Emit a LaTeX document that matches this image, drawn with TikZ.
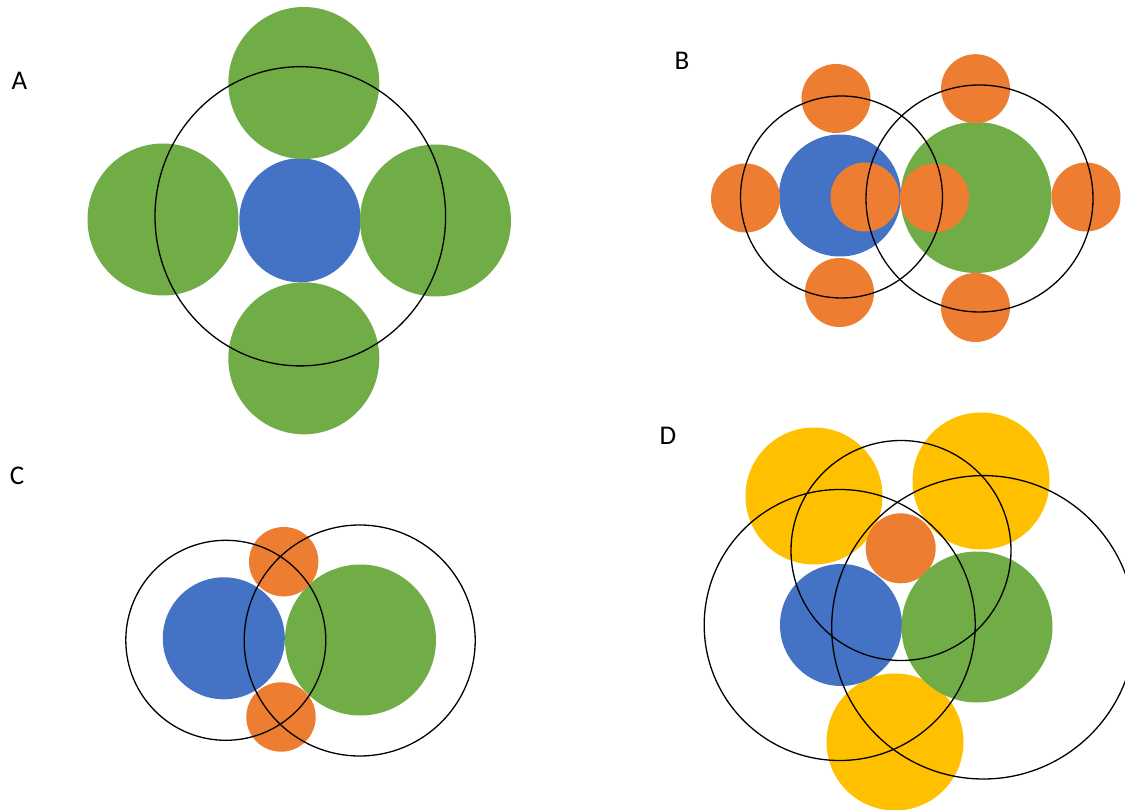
\documentclass[tikz,border=0pt]{standalone}
\usepackage{fontspec}
\setmainfont{Carlito}
\definecolor{cblue}{HTML}{4472C4}
\definecolor{cgreen}{HTML}{70AD47}
\definecolor{corange}{HTML}{ED7D31}
\definecolor{cyellow}{HTML}{FFC000}
\tikzset{
  ring/.style={draw=black, line width=1.3pt},
  lbl/.style={anchor=center, inner sep=0pt, font=\fontsize{27}{31}\selectfont}
}
\begin{document}
\begin{tikzpicture}[x=1pt,y=-1pt]
\useasboundingbox (0,0) rectangle (1125,810);
\fill[white] (0,0) rectangle (1125,810);
% ---- A ----
\node[lbl] (la) at (19.5,80.5) {A};
\fill[cblue] (300,220.3) ellipse (60.7 and 62);
\fill[cgreen] (303.8,83) ellipse (75.5 and 76);
\fill[cgreen] (163,219.5) ellipse (75.5 and 76);
\fill[cgreen] (435.5,220.5) ellipse (75.5 and 76);
\fill[cgreen] (303.8,358.3) ellipse (75.5 and 76);
\draw[ring] (300.3,216.3) ellipse (145.3 and 149.6);
% ---- B ----
\node[lbl] (lb) at (682,60.5) {B};
\fill[cblue] (840,195.5) circle (61);
\fill[cgreen] (976,197.5) circle (75.5);
\foreach \p in {(745.5,198),(836,98.5),(865,197),(839.5,292.5),(975.5,88.7),(934.5,198),(1086,197),(975.5,307.5)}
  \fill[corange] \p circle (34.5);
\draw[ring] (841.5,197) circle (101);
\draw[ring] (979.5,198.5) circle (113.5);
% ---- C ----
\node[lbl] (lc) at (17,476) {C};
\fill[cblue] (223.8,638.3) circle (61);
\fill[cgreen] (360.5,640) circle (75.5);
\fill[corange] (283.7,561.7) circle (34.7);
\fill[corange] (281,717) circle (34.7);
\draw[ring] (225.8,640.3) circle (100);
\draw[ring] (359.7,640.5) circle (115.5);
% ---- D ----
\node[lbl] (ld) at (668,436) {D};
\fill[cyellow] (814,496) circle (68.5);
\fill[cyellow] (981,481) circle (68.5);
\fill[cyellow] (895,742) circle (68.5);
\fill[corange] (900.7,548.3) circle (35);
\fill[cblue] (841,625) circle (61);
\fill[cgreen] (977,627) circle (75.5);
\draw[ring] (901,550.5) circle (110);
\draw[ring] (839.7,625) circle (135.5);
\draw[ring] (983.4,627.3) circle (151.7);
\end{tikzpicture}
\end{document}
